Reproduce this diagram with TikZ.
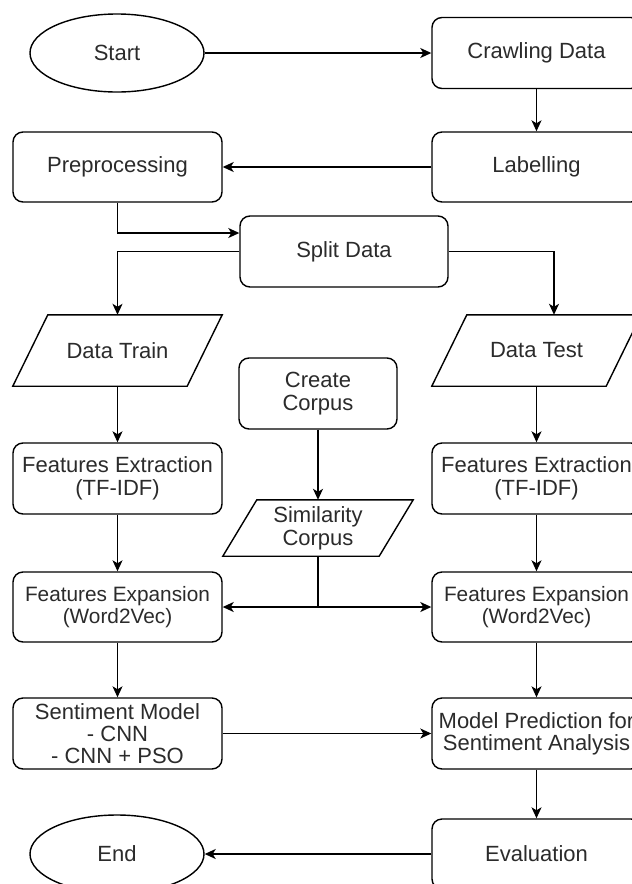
\documentclass[tikz,border=0pt]{standalone}
\usepackage{fontspec}
\setmainfont{Liberation Sans}
\usetikzlibrary{shapes.geometric,arrows.meta}
\definecolor{txt}{HTML}{2B2B2B}
\begin{document}
\begin{tikzpicture}[x=1pt,y=-1pt,
  every node/.style={text=txt,font=\fontsize{22}{23}\selectfont,align=center,inner sep=0pt},
  procbox/.style={draw,line width=1.4pt,rounded corners=10pt,minimum width=209pt,minimum height=71pt},
  termbox/.style={draw,line width=1.4pt,ellipse,minimum width=174pt,minimum height=78pt},
  iobox/.style={minimum width=209pt,minimum height=71pt},
  arr/.style={line width=1.4pt,-{Stealth[length=11pt,width=10pt,inset=3pt]}},
  ln/.style={line width=1.4pt}]
\useasboundingbox (0,0) rectangle (632,884);
\clip (0,0) rectangle (632,884);
\fill[white] (0,0) rectangle (632,884);

\node[termbox] (start) at (117,53) {Start};
\node[procbox] (crawl) at (536.5,53) {Crawling Data};
\node[procbox,minimum height=70pt] (label) at (536.5,167) {Labelling};
\node[procbox,minimum height=70pt] (prep) at (117.5,167) {Preprocessing};
\node[procbox,minimum width=208pt] (split) at (344,251.5) {Split Data};
\node[iobox] (dtrain) at (117.5,350.5) {Data Train};
\node[iobox] (dtest) at (536.5,350.5) {Data Test};
\node[procbox,minimum width=158pt] (corpus) at (318,393.5) {Create\\Corpus};
\node[procbox] (fe1) at (117.5,478.5) {Features Extraction\\(TF-IDF)};
\node[procbox] (fe2) at (536.5,478.5) {Features Extraction\\(TF-IDF)};
\node[minimum width=190pt,minimum height=56pt] (sim) at (318,528) {Similarity\\Corpus};
\node[procbox,minimum height=70pt,font=\fontsize{20.8}{22}\selectfont] (fx1) at (117.5,607) {Features Expansion\\(Word2Vec)};
\node[procbox,minimum height=70pt,font=\fontsize{20.8}{22}\selectfont] (fx2) at (536.5,607) {Features Expansion\\(Word2Vec)};
\node[procbox,font=\fontsize{22}{22}\selectfont] (sent) at (117.5,733.5) {Sentiment Model\\- CNN\\- CNN + PSO};
\node[procbox,font=\fontsize{22}{22}\selectfont] (pred) at (536.5,733.5) {Model Prediction for\\Sentiment Analysis};
\node[procbox,minimum height=70pt] (eval) at (536.5,854) {Evaluation};
\node[termbox] (endn) at (117,854) {End};

% parallelograms
\draw[ln] ([xshift=35pt]dtrain.north west) -- (dtrain.north east) -- ([xshift=-35pt]dtrain.south east) -- (dtrain.south west) -- cycle;
\draw[ln] ([xshift=35pt]dtest.north west) -- (dtest.north east) -- ([xshift=-35pt]dtest.south east) -- (dtest.south west) -- cycle;
\draw[ln] ([xshift=34pt]sim.north west) -- (sim.north east) -- ([xshift=-34pt]sim.south east) -- (sim.south west) -- cycle;

% connectors
\draw[arr] (start.east) -- (crawl.west);
\draw[arr] (crawl.south) -- (label.north);
\draw[arr] (label.west) -- (prep.east);
\draw[arr] (prep.south) |- ([yshift=18.5pt]split.west);
\draw[arr] (split.west) -| (dtrain.north);
\draw[arr] (split.east) -| ([xshift=17.5pt]dtest.north);
\draw[arr] (dtrain.south) -- (fe1.north);
\draw[arr] (dtest.south) -- (fe2.north);
\draw[arr] (corpus.south) -- (sim.north);
\draw[arr] (fe1.south) -- (fx1.north);
\draw[arr] (fe2.south) -- (fx2.north);
\coordinate (j) at (sim.south |- fx1.east);
\draw[ln] (sim.south) -- (j);
\draw[arr] (j) -- (fx1.east);
\draw[arr] (j) -- (fx2.west);
\draw[arr] (fx1.south) -- (sent.north);
\draw[arr] (fx2.south) -- (pred.north);
\draw[arr] (sent.east) -- (pred.west);
\draw[arr] (pred.south) -- (eval.north);
\draw[arr] (eval.west) -- (endn.east);
\end{tikzpicture}
\end{document}
